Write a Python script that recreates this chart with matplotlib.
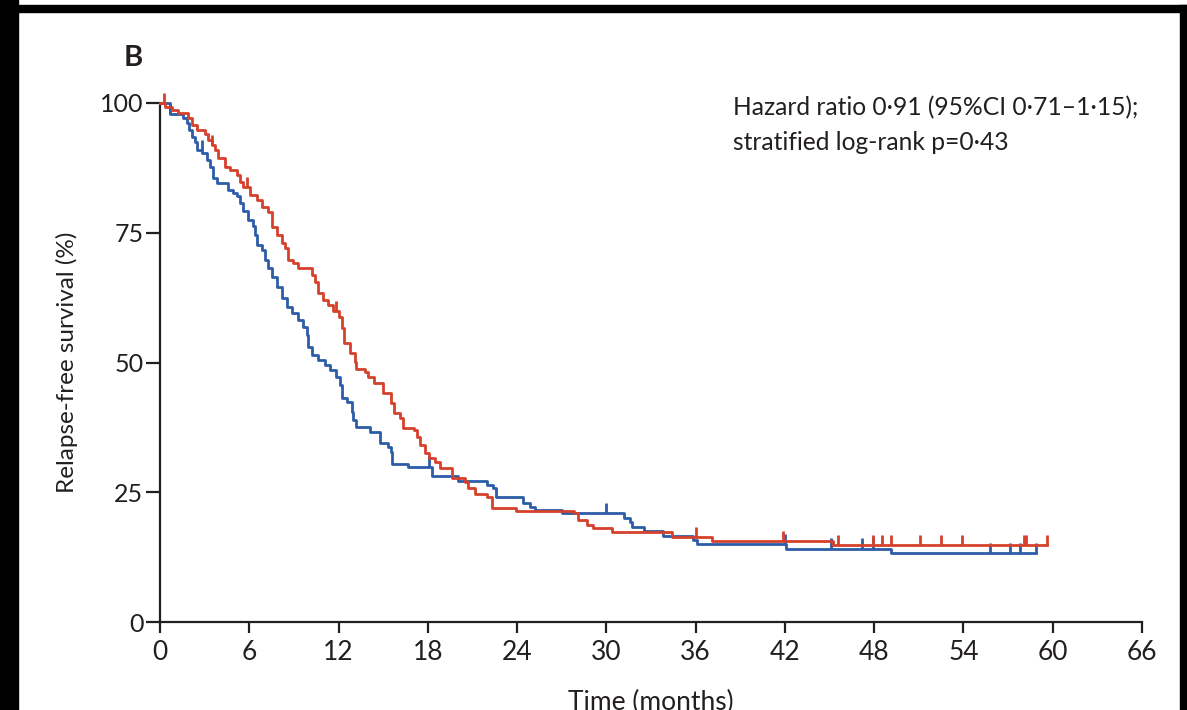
import matplotlib
matplotlib.use("Agg")
import matplotlib.pyplot as plt
from matplotlib.patches import Rectangle

plt.rcParams['font.family'] = ['Lato', 'DejaVu Sans']

# ---- data (months, relapse-free survival %) ----
blue_t = [0, 0.67, 1.55, 1.81, 1.95, 2.15, 2.35, 2.49, 2.82, 3.16, 3.36, 3.56, 3.83, 4.57, 4.91,
          5.17, 5.38, 5.58, 5.91, 6.25, 6.38, 6.52, 6.85, 7.06, 7.26, 7.53, 7.86, 8.20, 8.53, 8.87,
          9.27, 9.61, 9.88, 9.95, 10.2, 10.6, 11.1, 11.4, 11.8, 12.1, 12.2, 12.6, 12.9, 13.0, 13.2,
          14.1, 14.8, 15.3, 15.5, 15.6, 16.7, 18.3, 20.0, 22.0, 22.4, 22.6, 24.4, 24.9, 25.2, 27.0,
          31.2, 31.6, 31.7, 32.5, 33.8, 35.8, 36.1, 42.1, 49.1, 58.9]
blue_s = [100, 97.9, 97.1, 96.1, 94.8, 93.4, 92.5, 90.9, 90.4, 89.0, 87.7, 85.5, 84.6, 83.2, 82.7,
          82.1, 80.7, 79.2, 77.5, 76.3, 74.6, 72.6, 71.7, 69.7, 68.2, 66.5, 64.5, 62.4, 60.7, 59.5,
          58.2, 56.8, 55.3, 53.0, 51.4, 50.5, 49.5, 48.6, 47.2, 45.7, 43.2, 42.4, 40.5, 38.9, 37.6,
          36.6, 34.5, 33.7, 32.8, 30.4, 29.9, 28.1, 27.2, 26.4, 25.8, 24.1, 22.9, 22.2, 21.6, 21.0,
          20.0, 19.3, 18.3, 17.5, 16.6, 15.8, 15.0, 14.1, 13.3, 13.3]
blue_cens = [0.7, 2.8, 18.1, 30.0, 42.0, 45.1, 47.2, 47.9, 55.8, 57.1, 57.8, 58.9]

red_t = [0, 0.34, 0.81, 1.21, 1.88, 2.15, 2.49, 3.02, 3.23, 3.49, 3.70, 3.90, 4.37, 4.70, 5.17,
         5.38, 5.58, 6.05, 6.52, 6.85, 7.26, 7.53, 7.86, 8.20, 8.40, 8.60, 8.94, 9.27, 10.2, 10.4,
         10.6, 10.95, 11.3, 11.6, 12.0, 12.2, 12.4, 12.8, 13.1, 13.2, 13.8, 14.0, 14.4, 15.0, 15.5,
         15.7, 16.1, 16.3, 17.1, 17.3, 17.5, 17.8, 18.1, 18.5, 18.8, 19.6, 20.5, 20.7, 21.2, 22.0,
         22.3, 23.9, 27.8, 28.1, 28.7, 29.1, 30.4, 34.4, 37.1, 45.2, 59.6]
red_s = [100, 99.2, 98.7, 98.1, 97.1, 95.8, 94.8, 94.0, 92.9, 91.9, 90.9, 89.4, 87.7, 87.1, 86.1,
         84.8, 83.8, 82.3, 81.3, 80.0, 79.0, 76.1, 74.6, 73.0, 72.1, 69.7, 69.2, 68.2, 66.9, 65.5,
         63.4, 62.0, 61.1, 59.9, 58.8, 56.6, 53.8, 51.8, 50.1, 48.7, 48.2, 47.2, 46.1, 44.1, 42.2,
         40.3, 39.3, 37.4, 37.0, 35.6, 34.1, 32.6, 31.6, 30.8, 29.7, 27.7, 27.0, 25.8, 24.7, 24.1,
         22.0, 21.4, 21.0, 19.7, 18.7, 18.1, 17.3, 16.4, 15.6, 14.8, 14.8]
red_cens = [0.27, 3.5, 5.85, 11.85, 36.0, 41.9, 45.6, 47.9, 48.5, 49.1, 51.1, 52.5, 53.9, 58.1, 58.2, 59.6]

x_ticks = [0, 6, 12, 18, 24, 30, 36, 42, 48, 54, 60, 66]
y_ticks = [0, 25, 50, 75, 100]

BLUE = '#2d5ca8'
RED = '#d5412c'
INK = '#231f20'

W, H = 1187, 710
fig = plt.figure(figsize=(W / 100, H / 100), dpi=100)
ax = fig.add_axes([160 / W, 1 - 622 / H, (1142 - 160) / W, (622 - 103) / H])


def surv_at(ts, ss, t):
    val = ss[0]
    for ti, si in zip(ts, ss):
        if ti <= t:
            val = si
    return val


for ts, ss, cens, col in [(blue_t, blue_s, blue_cens, BLUE), (red_t, red_s, red_cens, RED)]:
    ax.step(ts, ss, where='post', color=col, lw=2.0, clip_on=False, zorder=3)
    for c in cens:
        s = surv_at(ts, ss, c)
        ax.vlines(c, s, s + 2.0, color=col, lw=2.0, clip_on=False, zorder=3)

ax.set_xlim(0, 66)
ax.set_ylim(0, 100)
ax.set_xticks(x_ticks)
ax.set_yticks(y_ticks)
ax.set_xticklabels([str(v) for v in x_ticks])
ax.set_yticklabels([str(v) for v in y_ticks])
for sp in ['top', 'right']:
    ax.spines[sp].set_visible(False)
for sp in ['left', 'bottom']:
    ax.spines[sp].set_color(INK)
    ax.spines[sp].set_linewidth(1.6)
ax.tick_params(axis='both', direction='out', length=10, width=1.6, color=INK,
               labelcolor=INK, labelsize=18, pad=2)
ax.tick_params(axis='x', length=8, pad=5, labelsize=19)

ax.set_xlabel('Time (months)', fontsize=19, color=INK, labelpad=18)
ax.set_ylabel('Relapse-free survival (%)', fontsize=17.5, color=INK, labelpad=16)

fig.text(733 / W, 1 - 108 / H, 'Hazard ratio 0·91 (95%CI 0·71–1·15);', fontsize=17.7,
         color=INK, ha='left', va='center')
fig.text(733 / W, 1 - 143 / H, 'stratified log-rank p=0·43', fontsize=17.7,
         color=INK, ha='left', va='center')
fig.text(124 / W, 1 - 58 / H, 'B', fontsize=21, fontweight='bold', color=INK,
         ha='left', va='center')

# black frame pieces
fig.patches.append(Rectangle((0, 0), 18 / W, 1, transform=fig.transFigure, color='black', zorder=10))
fig.patches.append(Rectangle((0, 1 - 12 / H), 1, 7 / H, transform=fig.transFigure, color='black', zorder=10))
fig.patches.append(Rectangle((1180 / W, 0), 7 / W, 1 - 5 / H, transform=fig.transFigure, color='black', zorder=10))

fig.savefig('out.png', dpi=100)
